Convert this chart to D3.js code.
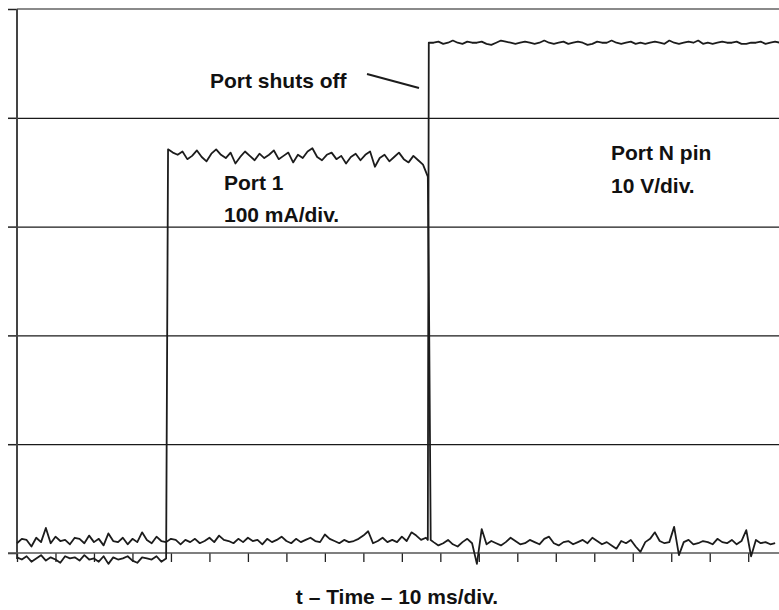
<!DOCTYPE html>
<html>
<head>
<meta charset="utf-8">
<script src="https://cdn.jsdelivr.net/npm/d3@7"></script>
<style>
  body { margin: 0; background: #fff; }
  text { font-family: "Liberation Sans", Arial, sans-serif; font-weight: bold; fill: #111; }
</style>
</head>
<body>
<svg id="chart" width="779" height="610"></svg>
<script>
// ====================================================================
// data: scope traces, sampled every 0.25 ms
var sample_dt = 0.25;

// Port 1 current (mA), 100 mA/div
var i_before_start = 0;
var i_before = [-4,-6,-3,-8,-5,-2,-7,-4,-6,-9,-3,-5,-4,-7,-2,-6,-5,-8,-3,-10,
  -4,-6,-5,-3,-7,-9,-4,-5,-6,-3,-8,-5];
var i_on_start = 7.85;
var i_on = [371,368,366,369,362,365,370,364,360,367,371,366,363,368,358,364,369,365,361,367,
  363,366,370,362,365,368,359,366,363,369,372,364,361,366,368,362,365,358,364,367,
  361,366,369,355,363,366,360,364,368,362,359,365,361,357,346];
var i_fall = [[21.4, 255], [21.5, 12]];
var i_after_start = 21.65;
var i_after = [10,7,9,12,8,6,10,13,9,-10,22,8,11,9,7,10,14,11,8,9,
  12,10,8,13,15,9,7,10,11,8,10,12,9,14,11,8,10,7,4,11,
  9,12,6,1,10,13,19,11,9,10,24,-2,10,12,8,9,11,10,8,13,
  10,9,12,8,11,21,-3,12,9,10,8,9];

// Port N pin voltage (V), 10 V/div
var v_off_start = 0;
var v_off = [0.9,1.3,1.2,0.6,1.4,1.0,2.3,0.9,1.5,1.1,1.2,0.8,1.4,1.3,0.9,1.6,1.0,1.3,0.7,1.8,
  1.1,1.0,1.4,0.8,1.3,1.0,1.9,1.2,0.9,1.5,1.1,1.0,1.3,1.2,0.8,1.2,1.0,1.3,0.9,1.1,
  1.4,1.0,1.6,1.2,1.1,0.9,1.3,1.0,1.4,1.1,1.2,0.8,1.3,1.0,1.2,1.5,1.1,0.9,1.3,1.0,
  1.2,1.4,1.1,1.0,1.7,1.3,1.1,0.9,1.2,1.0,1.1,1.3,1.6,2.0,0.9,1.1,1.4,1.0,1.2,1.0,
  1.5,1.1,1.9,1.6,1.2,1.4];
var v_rise = [[21.35, 1.2], [21.4, 46.9]];
var v_on_start = 21.65;
var v_on = [46.9,47.0,46.8,46.9,47.1,46.9,46.8,47.0,46.9,46.9,47.0,46.8,46.7,46.9,47.1,47.0,46.9,46.8,46.9,47.0,
  46.9,46.8,46.9,47.1,46.9,46.8,46.9,47.0,46.8,46.9,47.0,46.9,46.7,46.8,47.0,46.9,46.9,47.1,46.9,46.8,
  46.9,47.0,46.8,46.9,46.8,46.9,47.0,46.9,46.8,47.1,46.9,46.8,46.9,47.0,46.9,47.1,46.8,46.9,46.8,46.9,
  47.0,46.9,46.9,47.0,46.8,46.8,46.9,46.9,47.0,46.8,46.9,47.0,46.9];

var time_ticks = d3.range(0, 40, 2);   // ms, minor ticks
var div_ticks = [0, 1, 2, 3, 4, 5];

var str_title = "t \u2013 Time \u2013 10 ms/div.";
// ====================================================================

var svg = d3.select("#chart");
var x_left = 17, x_right = 779, y_top = 9, y_bottom = 553;

var x = d3.scaleLinear().domain([0, 39.6]).range([x_left, x_right]);
var y_div = d3.scaleLinear().domain([0, 5]).range([y_bottom, y_top]);
var y_i = d3.scaleLinear().domain([0, 500]).range([y_bottom, y_top]);
var y_v = d3.scaleLinear().domain([0, 50]).range([y_bottom, y_top]);

function fn_samples(t0, vals) {
  return vals.map(function(v, i) { return [t0 + i * sample_dt, v]; });
}

var i_trace = [].concat(fn_samples(i_before_start, i_before),
  fn_samples(i_on_start, i_on), i_fall, fn_samples(i_after_start, i_after));
var v_trace = [].concat(fn_samples(v_off_start, v_off), v_rise,
  fn_samples(v_on_start, v_on));

// gridlines
var grid = svg.append("g")
  .attr("transform", "translate(" + x_left + ",0)")
  .call(d3.axisLeft(y_div).tickValues([1, 2, 3, 4]).tickSize(-(x_right - x_left)).tickFormat(""));
grid.select(".domain").remove();
grid.selectAll("line").attr("stroke", "#1a1a1a").attr("stroke-width", 1.2);

svg.append("line")
  .attr("x1", x_left).attr("x2", x_right)
  .attr("y1", y_div(5)).attr("y2", y_div(5))
  .attr("stroke", "#8a8a8a").attr("stroke-width", 2);

// left axis ticks
var left_ax = svg.append("g")
  .attr("transform", "translate(" + x_left + ",0)")
  .call(d3.axisLeft(y_div).tickValues(div_ticks).tickSize(9).tickFormat(""));
left_ax.select(".domain").remove();
left_ax.selectAll("line").attr("stroke", "#222").attr("stroke-width", 1.5);

svg.append("line")
  .attr("x1", x_left).attr("x2", x_left)
  .attr("y1", y_top).attr("y2", y_bottom + 6)
  .attr("stroke", "#444").attr("stroke-width", 2);

// bottom axis
var bottom_ax = svg.append("g")
  .attr("transform", "translate(0," + y_bottom + ")")
  .call(d3.axisBottom(x).tickValues(time_ticks).tickSize(9).tickFormat(""));
bottom_ax.select(".domain").remove();
bottom_ax.selectAll("line").attr("stroke", "#222").attr("stroke-width", 1.3);

svg.append("line")
  .attr("x1", x_left - 9).attr("x2", x_right)
  .attr("y1", y_bottom).attr("y2", y_bottom)
  .attr("stroke", "#555").attr("stroke-width", 1.6);

// traces
var line_v = d3.line()
  .x(function(d) { return x(d[0]); }).y(function(d) { return y_v(d[1]); });
var line_i = d3.line()
  .x(function(d) { return x(d[0]); }).y(function(d) { return y_i(d[1]); });

svg.append("path")
  .datum(v_trace)
  .attr("fill", "none").attr("stroke", "#1c1c1c").attr("stroke-width", 1.8)
  .attr("stroke-linejoin", "round")
  .attr("d", line_v);

svg.append("path")
  .datum(i_trace)
  .attr("fill", "none").attr("stroke", "#1c1c1c").attr("stroke-width", 1.8)
  .attr("stroke-linejoin", "round")
  .attr("d", line_i);

// annotations
var int_font = 21;
function fn_label(str, px, py, anchor) {
  svg.append("text").attr("x", px).attr("y", py)
    .attr("text-anchor", anchor || "start")
    .style("font-size", int_font + "px")
    .text(str);
}
fn_label("Port shuts off", 210, 88);
svg.append("line")
  .attr("x1", 367).attr("y1", 74).attr("x2", 419).attr("y2", 88)
  .attr("stroke", "#1c1c1c").attr("stroke-width", 2);
fn_label("Port 1", 224, 190);
fn_label("100 mA/div.", 224, 222);
fn_label("Port N pin", 611, 160);
fn_label("10 V/div.", 611, 193);
fn_label(str_title, 397, 604, "middle");
</script>
</body>
</html>
